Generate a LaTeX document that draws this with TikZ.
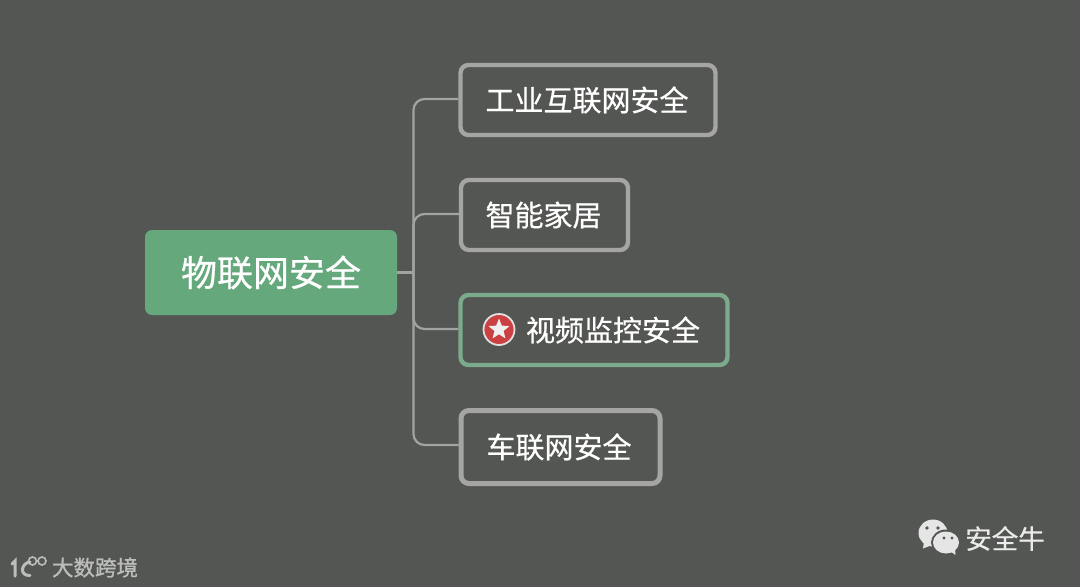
\documentclass[tikz,border=0pt]{standalone}
\usepackage{fontspec}
\newfontfamily\cjk[FakeBold=0.6]{Noto Sans CJK SC}
\newfontfamily\cjkw[FakeBold=0.9]{Noto Sans CJK SC}
\usetikzlibrary{shapes.geometric}
\definecolor{bgc}{HTML}{545653}
\definecolor{rootc}{HTML}{65A87C}
\definecolor{greyb}{HTML}{A5A6A4}
\definecolor{greenb}{HTML}{7BAB8C}
\definecolor{linec}{HTML}{A3A4A2}
\definecolor{redc}{HTML}{CB4141}
\definecolor{wm}{HTML}{BDBEBC}
\tikzset{
 rootbox/.style={fill=rootc,rounded corners=7pt,minimum width=252pt,minimum height=85pt,inner sep=0pt,text=white,font=\cjk\fontsize{36}{36}\selectfont},
 childbox/.style={draw=greyb,line width=4.4pt,fill=bgc,rounded corners=8pt,inner sep=0pt,text=white,font=\cjk\fontsize{29}{29}\selectfont},
 hotbox/.style={childbox,draw=greenb},
 link/.style={draw=linec,line width=2.2pt,rounded corners=11pt},
 wmtext/.style={inner sep=0pt,text=wm},
}
\begin{document}
\begin{tikzpicture}[x=1pt,y=-1pt]
\useasboundingbox (0,0) rectangle (1080,587);
\fill[bgc] (0,0) rectangle (1080,587);
\coordinate (j) at (413.5,272.5);
\node[rootbox] (root) at (271,272.5) {\raisebox{1pt}{物联网安全}};
\node[childbox,minimum width=255pt,minimum height=70pt] (c1) at (588,100) {\hspace*{-2pt}\raisebox{2.5pt}{工业互联网安全}};
\node[childbox,minimum width=167pt,minimum height=70pt] (c2) at (544.5,215) {\hspace*{-2pt}\raisebox{2pt}{智能家居}};
\node[hotbox,minimum width=267pt,minimum height=70pt] (c3) at (594,330) {\hspace*{38pt}\raisebox{2pt}{视频监控安全}};
\node[childbox,line width=5pt,minimum width=199pt,minimum height=73pt] (c4) at (560.5,447) {\hspace*{-3pt}\raisebox{2pt}{车联网安全}};
\draw[link,line width=3pt] (root.east) -- (j);
\draw[link] ([yshift=1pt]c1.west) -| (j);
\draw[link] ([yshift=1pt]c2.west) -| (j);
\draw[link] ([yshift=1pt]c3.west) -| (j);
\draw[link] ([yshift=2pt]c4.west) -| (j);
% star icon
\node[circle,fill=redc,draw=white!88!black,line width=1.8pt,minimum size=31pt,inner sep=0pt] (icon) at (499,329.5) {};
\node[star,star points=5,star point ratio=2.3,fill=white!94!black,minimum size=22pt,inner sep=0pt] (st) at (499,329.5) {};
% WeChat logo
\fill[white!90!black] (933,533) ellipse[x radius=14.5pt,y radius=13.5pt];
\fill[white!90!black] (924,542) -- (923,548.5) -- (932,545) -- cycle;
\fill[bgc] (946,542.5) ellipse[x radius=15pt,y radius=13pt];
\fill[white!90!black] (946,542.5) ellipse[x radius=13pt,y radius=11pt];
\fill[white!90!black] (950,551) -- (955.5,555) -- (955,548) -- cycle;
\fill[bgc] (927,528) circle[radius=1.8pt] (938,528) circle[radius=1.8pt] (944,538) circle[radius=1.6pt] (952,538) circle[radius=1.6pt];
\node[inner sep=0pt,text=white!92!black,font=\cjk\fontsize{26.5}{26.5}\selectfont] (wx) at (1005,538.5) {安全牛};
% bottom-left watermark
\node[wmtext,font=\cjkw\fontsize{21.5}{21.5}\selectfont] (dsk) at (95,567.5) {大数跨境};
\draw[wm,line width=3pt,line cap=round] (12,564) -- (15,561) -- (15,576);
\draw[wm,line width=3pt,line cap=round] (30,562) .. controls (21,563) and (19,576) .. (30,575.5);
\draw[wm,line width=1.6pt] (32.5,561) circle[radius=4pt] (42,561) circle[radius=4pt];
\end{tikzpicture}
\end{document}
